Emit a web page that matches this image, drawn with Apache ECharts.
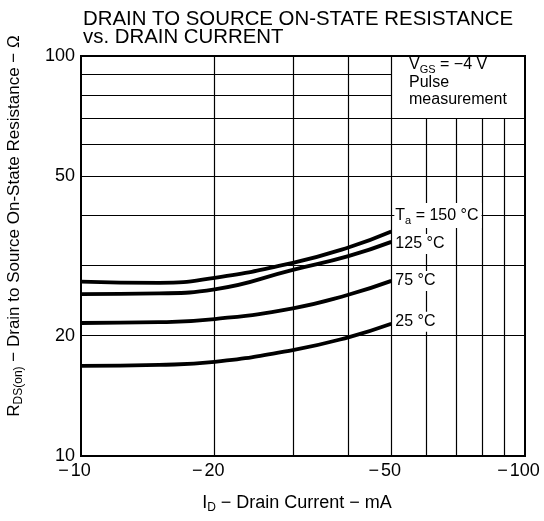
<!DOCTYPE html>
<html><head><meta charset="utf-8">
<script src="https://cdn.jsdelivr.net/npm/echarts@6/dist/echarts.min.js"></script>
<style>html,body{margin:0;padding:0;background:#fff}#c{width:544px;height:521px}</style>
</head><body><div id="c"></div>
<script>
// ---- data ----
const currents = [10, 15, 20, 30, 40, 50];          // |ID| in mA (shown as negative)
const r150 = [27.3, 27.1, 27.9, 30.4, 33.2, 36.4];
const r125 = [25.4, 25.5, 26.1, 29.2, 31.6, 34.3];
const r75  = [21.5, 21.6, 22.0, 23.4, 25.3, 27.4];
const r25  = [16.8, 16.9, 17.2, 18.4, 19.8, 21.4];
const seriesNames = ['Ta = 150 °C', '125 °C', '75 °C', '25 °C'];
const xTicks = [10, 20, 50, 100];
const xTickLabels = ['−10', '−20', '−50', '−100'];
const yTicks = [10, 20, 50, 100];
const yTickLabels = ['10', '20', '50', '100'];
const hGridFull = [20, 30, 40, 50, 60, 70];
const hGridShort = [80, 90];
const vGridFull = [20, 30, 40, 50];
const vGridShort = [60, 70, 80, 90];
const noteCorner = [50, 70];
const titleLines = ['DRAIN TO SOURCE ON-STATE RESISTANCE', 'vs. DRAIN CURRENT'];

// ---- chart ----
const FONT = 'Liberation Sans';
const chart = echarts.init(document.getElementById('c'), null, {renderer: 'canvas'});

function pick(v, ticks, labels) {
  let best = 0;
  for (let i = 1; i < ticks.length; i++) if (Math.abs(ticks[i] - v) < Math.abs(ticks[best] - v)) best = i;
  return labels[best];
}

const gridData = [];
hGridFull.forEach(y => gridData.push([{coord: [xTicks[0], y]}, {coord: [xTicks[xTicks.length - 1], y]}]));
hGridShort.forEach(y => gridData.push([{coord: [xTicks[0], y]}, {coord: [noteCorner[0], y]}]));
vGridFull.forEach(x => gridData.push([{coord: [x, yTicks[0]]}, {coord: [x, yTicks[yTicks.length - 1]]}]));
vGridShort.forEach(x => gridData.push([{coord: [x, yTicks[0]]}, {coord: [x, noteCorner[1]]}]));

const curves = [r150, r125, r75, r25];
const labelOffsets = [[0, -16], [0, 2], [0, 0], [0, -2]];

const richText = {
  t: {fontSize: 16, fontFamily: FONT, color: '#000'},
  s: {fontSize: 11, fontFamily: FONT, color: '#000', padding: [10, 0, 0, 0]}
};

const lineSeries = curves.map((vals, i) => ({
  name: seriesNames[i],
  type: 'line',
  z: 3,
  smooth: 0.5,
  symbol: 'none',
  silent: true,
  animation: false,
  lineStyle: {color: '#000', width: 3.8},
  data: currents.map((c, k) => [c, vals[k]]),
  endLabel: {
    show: true,
    distance: 3,
    offset: labelOffsets[i],
    backgroundColor: '#fff',
    padding: [2, 3, 2, 1],
    formatter: p => {
      const n = p.seriesName;
      if (n.startsWith('Ta')) return '{t|T}{s|a}{t|' + n.slice(2) + '}';
      return '{t|' + n + '}';
    },
    rich: richText
  }
}));

const option = {
  animation: false,
  title: {
    text: titleLines.join('\n'),
    left: 83, top: 10, padding: 0,
    textStyle: {fontFamily: FONT, fontSize: 20.4, fontWeight: 'normal', color: '#000', lineHeight: 18}
  },
  grid: {left: 81, right: 19, top: 56, bottom: 65, show: true, borderColor: '#000', borderWidth: 2, containLabel: false},
  xAxis: {
    type: 'log', logBase: 10, min: 10, max: 100,
    axisLine: {show: false}, axisTick: {show: false}, splitLine: {show: false}, minorTick: {show: false},
    axisLabel: {
      customValues: xTicks,
      margin: 6,
      padding: [0, 13, 0, 0],
      formatter: v => {
        const s = pick(v, xTicks, xTickLabels);
        return '{m|' + s.charAt(0) + '}{n|' + s.slice(1) + '}';
      },
      rich: {
        m: {fontSize: 18, fontFamily: FONT, color: '#000', padding: [0, 2, 0, 0]},
        n: {fontSize: 18, fontFamily: FONT, color: '#000'}
      }
    }
  },
  yAxis: {
    type: 'log', logBase: 10, min: 10, max: 100,
    axisLine: {show: false}, axisTick: {show: false}, splitLine: {show: false},
    axisLabel: {
      customValues: yTicks,
      margin: 6,
      fontSize: 18, fontFamily: FONT, color: '#000',
      formatter: v => pick(v, yTicks, yTickLabels)
    }
  },
  graphic: [
    {
      type: 'text', x: 409, y: 56, z: 10,
      style: {
        text: '{t|V}{s|GS}{t| = −4 V}\n{t|Pulse}\n{t|measurement}',
        rich: {
          t: {fontSize: 16, fontFamily: FONT, fill: '#000', lineHeight: 17.5},
          s: {fontSize: 11, fontFamily: FONT, fill: '#000', padding: [10, 0, 0, 0], lineHeight: 17.5}
        }
      }
    },
    {
      type: 'text', x: 297, y: 503, z: 10,
      style: {
        text: '{t|I}{s|D}{t| − Drain Current − mA}',
        align: 'center', verticalAlign: 'middle',
        rich: {
          t: {fontSize: 18, fontFamily: FONT, fill: '#000'},
          s: {fontSize: 12, fontFamily: FONT, fill: '#000', padding: [10, 0, 0, 0]}
        }
      }
    },
    {
      type: 'text', x: 14, y: 226, rotation: Math.PI / 2, z: 10,
      style: {
        text: '{t|R}{s|DS(on)}{t| − Drain to Source On-State Resistance − Ω}',
        align: 'center', verticalAlign: 'middle',
        rich: {
          t: {fontSize: 17, fontFamily: FONT, fill: '#000'},
          s: {fontSize: 12, fontFamily: FONT, fill: '#000', padding: [9, 0, 0, 0]}
        }
      }
    }
  ],
  series: [
    {
      type: 'line', z: 1, silent: true, animation: false, data: [],
      markLine: {
        z: 1, silent: true, animation: false, symbol: ['none', 'none'],
        label: {show: false},
        lineStyle: {color: '#000', width: 1.2, type: 'solid'},
        emphasis: {disabled: true},
        data: gridData
      }
    }
  ].concat(lineSeries)
};
chart.setOption(option);
</script>
</body></html>
